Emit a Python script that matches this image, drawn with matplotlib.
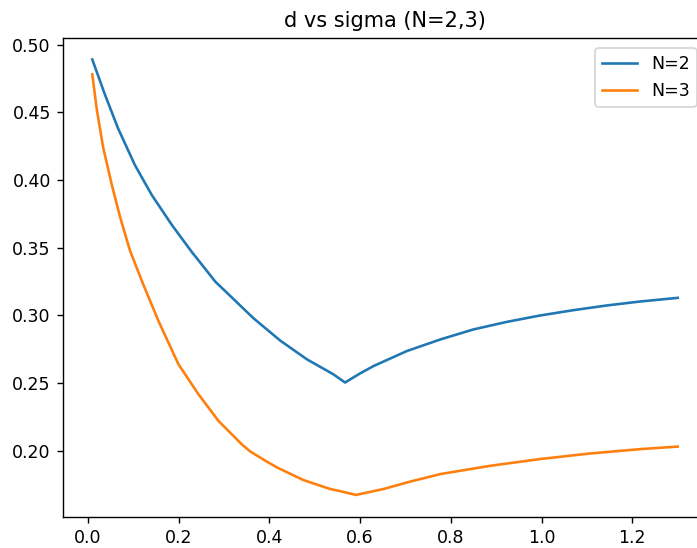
import matplotlib
matplotlib.use("Agg")
import matplotlib.pyplot as plt

# values
sigma_n2 = [0.010, 0.038, 0.067, 0.104, 0.141, 0.185, 0.229, 0.248, 0.281, 0.306,
            0.365, 0.424, 0.483, 0.541, 0.567, 0.600, 0.630, 0.703, 0.777, 0.850,
            0.924, 0.997, 1.070, 1.144, 1.217, 1.300]
d_n2 = [0.489, 0.463, 0.438, 0.411, 0.389, 0.367, 0.347, 0.339, 0.325, 0.317,
        0.298, 0.2815, 0.2676, 0.2566, 0.2505, 0.2572, 0.2627, 0.2737, 0.2823, 0.2897,
        0.2953, 0.3000, 0.3039, 0.3074, 0.3103, 0.3130]

sigma_n3 = [0.010, 0.020, 0.034, 0.053, 0.071, 0.093, 0.121, 0.156, 0.200, 0.244,
            0.288, 0.339, 0.358, 0.391, 0.417, 0.475, 0.534, 0.556, 0.591, 0.652,
            0.710, 0.777, 0.887, 0.997, 1.107, 1.217, 1.300]
d_n3 = [0.478, 0.452, 0.424, 0.3965, 0.373, 0.348, 0.324, 0.2958, 0.2639, 0.2418,
        0.2222, 0.2050, 0.1996, 0.1928, 0.1878, 0.1785, 0.1719, 0.1703, 0.1675, 0.1719,
        0.1773, 0.1829, 0.1890, 0.1940, 0.1981, 0.2013, 0.2032]

dpi = 125
fig = plt.figure(figsize=(697 / dpi, 548 / dpi), dpi=dpi)
ax = fig.add_axes([63 / 697, 1 - 516.7 / 548, (707 - 63) / 697, (516.7 - 37.7) / 548])

ax.plot(sigma_n2, d_n2, label="N=2")
ax.plot(sigma_n3, d_n3, label="N=3")
ax.set_title("d vs sigma (N=2,3)")
ax.legend(loc="upper right", borderaxespad=0.6)

fig.savefig("out.png", dpi=dpi)
